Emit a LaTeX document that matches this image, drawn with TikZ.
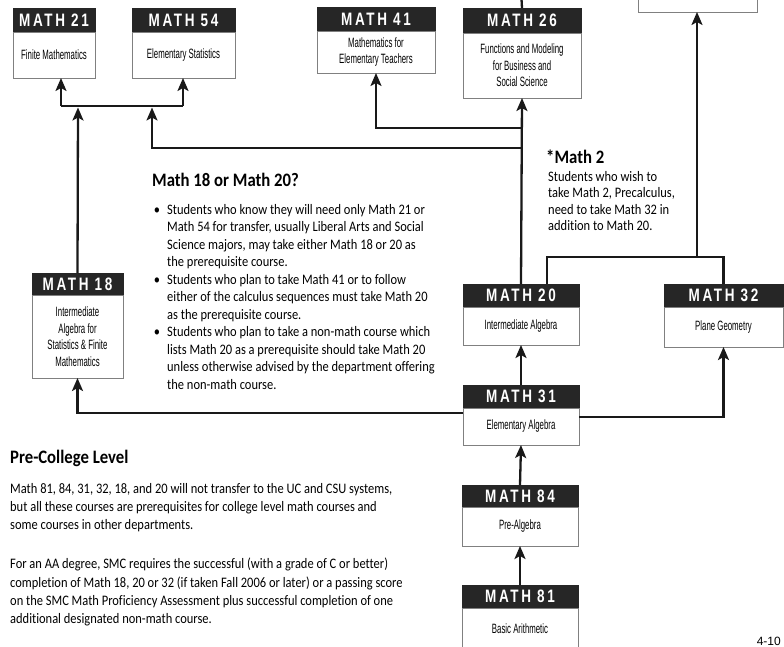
\documentclass[tikz,border=0pt]{standalone}
\usepackage{fontspec}
\setmainfont{Carlito}
\newfontfamily\pfont[FakeStretch=0.86,Ligatures=NoCommon]{Carlito}
\newfontfamily\hbfont[FakeStretch=0.88]{Carlito}
\newfontfamily\bxfont[FakeStretch=0.58]{Liberation Sans}
\newfontfamily\hdfont[FakeStretch=0.75,LetterSpace=15]{Liberation Sans}
\newfontfamily\pgnfont{Liberation Sans}
\usetikzlibrary{arrows.meta,calc}

\tikzset{
  hdr/.style={fill=black!85, draw=black!85, text=white,
    font=\hdfont\bfseries\fontsize{18}{18}\selectfont,
    inner sep=0pt, outer sep=0pt, anchor=north west},
  bodybox/.style={fill=white, draw=black!50, line width=0.7pt, align=center,
    font=\bxfont\fontsize{13.5}{16.5}\selectfont,
    inner sep=0pt, outer sep=0pt, anchor=north west},
  conn/.style={line width=2.3pt, draw=black!90},
  arr/.style={conn, -{Stealth[length=13pt,width=11pt,inset=3pt]}},
  para/.style={anchor=north west, align=left, inner sep=0pt,
    font=\pfont\fontsize{14.5}{18.3}\selectfont},
  heading/.style={anchor=west, inner sep=0pt,
    font=\hbfont\bfseries\fontsize{19}{19}\selectfont},
}

\newcommand\course[8]{%
  \node[hdr, minimum width={#4-#2}, minimum height={#5-#3}] (#1h) at (#2,#3) {#7};
  \node[bodybox, minimum width={#4-#2}, minimum height={#6-#5}] (#1) at (#2,#5) {#8};
}

\begin{document}
\begin{tikzpicture}[x=1pt,y=-1pt]
\useasboundingbox (0,0) rectangle (784,647);
\clip (0,0) rectangle (784,647);

% course boxes
\course{m21}{13}{8}{95}{32}{78}{MATH\hspace{6pt}21}{Finite Mathematics}
\course{m54}{132}{8}{235}{32}{78}{MATH\hspace{6pt}54}{Elementary Statistics}
\course{m41}{317}{7}{435}{31}{73}{MATH\hspace{6pt}41}{Mathematics for\\Elementary Teachers}
\course{m26}{463}{8}{581}{33}{98}{MATH\hspace{6pt}26}{Functions and Modeling\\for Business and\\Social Science}
\course{m18}{32}{273}{123}{295}{378}{MATH\hspace{6pt}18}{Intermediate\\Algebra for\\Statistics \& Finite\\Mathematics}
\course{m20}{463}{284}{579}{307}{345}{MATH\hspace{6pt}20}{Intermediate Algebra}
\course{m32}{664}{284}{783}{307}{347}{MATH\hspace{6pt}32}{Plane Geometry}
\course{m31}{463}{385}{579}{408}{445}{MATH\hspace{6pt}31}{Elementary Algebra}
\course{m84}{462}{485}{578}{507}{546}{MATH\hspace{6pt}84}{Pre-Algebra}
\course{m81}{462}{585}{578}{608}{650}{MATH\hspace{6pt}81}{Basic Arithmetic}
\node[bodybox, minimum width=119, minimum height=60, anchor=south] (m2) at (697.5,12) {};

% junction points
\coordinate (jL) at (61,106);
\coordinate (jR) at (183,106);
\coordinate (j1) at (78,107.5);
\coordinate (j2) at (152,107.5);
\coordinate (b41) at (521,128);
\coordinate (b18) at (521,148);
\coordinate (k1) at (547,257);
\coordinate (k2) at (697,257);
\coordinate (top26) at (521,-10);

% connectors
\draw[arr] (m81h.north) -- (m84.south);
\draw[arr] (m84h.north) -- (m31.south);
\draw[arr] (m31h.north) -- (m20.south);
\draw[arr] ($(m31.north west)+(0,5)$) -| (m18.south);
\draw[arr] ($(m31.north east)+(0,9)$) -| (m32.south);
\draw[arr] (m20h.north) -- (m26.south);
\draw[conn] (m26h.north) -- (top26);
\draw[arr] (b41) -| (m41.south);
\draw[arr] (b18) -| (j2);
\draw[arr] (m18h.north) -- (j1);
\draw[conn] (jL) -- (jR);
\draw[arr] (jL) -- (jL |- m21.south);
\draw[arr] (jR) -- (jR |- m54.south);
\draw[conn] (k1 |- m20h.north) -- (k1) -| (m32h.north);
\draw[arr] (k2) -- (k2 |- m2.south);

% texts
\node[heading] (q) at (152,180) {Math 18 or Math 20?};
\node[para, font=\pfont\fontsize{14.5}{17.5}\selectfont] (bul) at (167,204) {%
\llap{•\hspace{7pt}}Students who know they will need only Math 21 or\\
Math 54 for transfer, usually Liberal Arts and Social\\
Science majors, may take either Math 18 or 20 as\\
the prerequisite course.\\
\llap{•\hspace{7pt}}Students who plan to take Math 41 or to follow\\
either of the calculus sequences must take Math 20\\
as the prerequisite course.\\
\llap{•\hspace{7pt}}Students who plan to take a non-math course which\\
lists Math 20 as a prerequisite should take Math 20\\
unless otherwise advised by the department offering\\
the non-math course.};

\node[heading] (m2t) at (546,157) {*Math 2};
\node[para, font=\pfont\fontsize{14.5}{16.5}\selectfont] (m2p) at (548,171) {%
Students who wish to\\
take Math 2, Precalculus,\\
need to take Math 32 in\\
addition to Math 20.};

\node[heading] (pcl) at (10,458) {Pre-College Level};
\node[para] (p1) at (10,483) {%
Math 81, 84, 31, 32, 18, and 20 will not transfer to the UC and CSU systems,\\
but all these courses are prerequisites for college level math courses and\\
some courses in other departments.};
\node[para] (p2) at (10,558) {%
For an AA degree, SMC requires the successful (with a grade of C or better)\\
completion of Math 18, 20 or 32 (if taken Fall 2006 or later) or a passing score\\
on the SMC Math Proficiency Assessment plus successful completion of one\\
additional designated non-math course.};

\node[anchor=east, inner sep=0pt, font=\pgnfont\fontsize{12}{12}\selectfont] (pg) at (781,641) {4-10};
\end{tikzpicture}
\end{document}
